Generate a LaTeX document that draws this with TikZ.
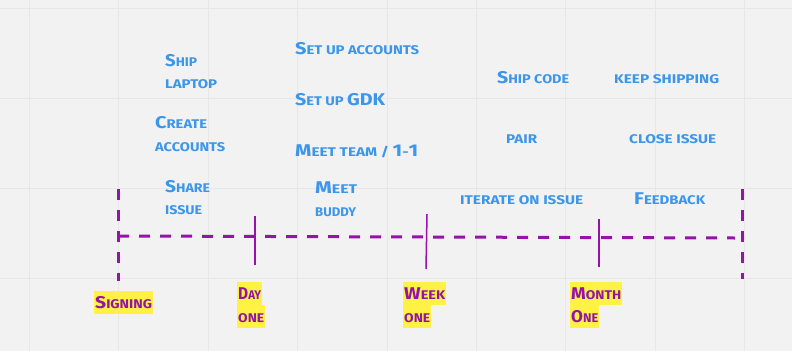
\documentclass[tikz,border=0pt]{standalone}
\usepackage{fontspec}
\setmainfont{Fira Sans}
\usepackage{graphicx}
\definecolor{bgc}{HTML}{F2F2F2}
\definecolor{gridc}{HTML}{E7E7E7}
\definecolor{blu}{HTML}{3C96EA}
\definecolor{purp}{HTML}{9414A8}
\definecolor{yel}{HTML}{FFF244}
\newsavebox\fitbox
\newcommand\fitw[2]{\sbox\fitbox{#2}\pgfmathsetmacro\fwr{#1/\wd\fitbox}\scalebox{\fwr}[1]{\usebox\fitbox}}
\newcommand\Bg[1]{{\fontsize{17}{17}\selectfont #1}}
\tikzset{
  note/.style={text=blu, font=\bfseries\fontsize{12.6}{14}\selectfont, anchor=base west, inner sep=0pt},
  lbl/.style={fill=yel, text=purp, font=\bfseries\fontsize{12.6}{14}\selectfont, anchor=north west,
    inner xsep=1pt, inner ysep=0pt, text height=11.5pt, text depth=0pt, minimum height=23pt},
  dashline/.style={draw=purp, line width=3pt, dash pattern=on 11pt off 10pt},
  tickline/.style={draw=purp, line width=1.5pt},
  gridline/.style={draw=gridc, line width=1pt}
}
\begin{document}
\begin{tikzpicture}[x=1pt,y=-1pt]
\fill[bgc] (0,0) rectangle (792,351);
\useasboundingbox (0,0) rectangle (792,351);
\foreach \gx in {29,118,208,297,387,476,565,655,744} {\draw[gridline] (\gx,0) -- (\gx,351);}
\foreach \gy in {8,98,188,278} {\draw[gridline] (0,\gy) -- (792,\gy);}

% timeline
\coordinate (tl0) at (118,236);
\coordinate (tl1) at (735,238);
\draw[dashline] (tl0) -- (tl1);
\coordinate (lb0) at (118,189);
\coordinate (lb1) at (118,281);
\draw[dashline] (lb0) -- (lb1);
\coordinate (rb0) at (742,189);
\coordinate (rb1) at (742,279);
\draw[dashline] (rb0) -- (rb1);
\coordinate (d0) at (255,216);
\coordinate (d1) at (255,265);
\draw[tickline] (d0) -- (d1);
\coordinate (w0) at (427,214);
\coordinate (w1) at (426,269);
\draw[tickline] (w0) -- (w1);
\coordinate (m0) at (599,219);
\coordinate (m1) at (599,267);
\draw[tickline] (m0) -- (m1);

% labels
\node[lbl] (sign) at (94,291) {\fitw{57}{\Bg{S}IGNING}};
\node[lbl] (day) at (237,282) {\fitw{23}{\Bg{D}AY}};
\node[lbl] (dayone) at (237,305) {\fitw{26}{ONE}};
\node[lbl] (week) at (403,282) {\fitw{41}{\Bg{W}EEK}};
\node[lbl] (weekone) at (403,305) {\fitw{26}{ONE}};
\node[lbl] (month) at (570,282) {\fitw{50}{\Bg{M}ONTH}};
\node[lbl] (monthone) at (570,305) {\fitw{27}{\Bg{O}NE}};

% notes
\node[note] (ship1) at (165,66) {\fitw{32}{\Bg{S}HIP}};
\node[note] (ship2) at (165,88) {\fitw{52}{LAPTOP}};
\node[note] (create1) at (155,128) {\fitw{52}{\Bg{C}REATE}};
\node[note] (create2) at (155,151) {\fitw{70}{ACCOUNTS}};
\node[note] (share1) at (165,192) {\fitw{45}{\Bg{S}HARE}};
\node[note] (share2) at (165,214) {\fitw{37}{ISSUE}};
\node[note] (setacc) at (295,54) {\fitw{124}{\Bg{S}ET UP ACCOUNTS}};
\node[note] (setgdk) at (295,105) {\fitw{90}{\Bg{S}ET UP \Bg{GDK}}};
\node[note] (team) at (295,156) {\fitw{123}{\Bg{M}EET TEAM / \Bg{1}-\Bg{1}}};
\node[note] (buddy1) at (315,193) {\fitw{42}{\Bg{M}EET}};
\node[note] (buddy2) at (315,216) {\fitw{41}{BUDDY}};
\node[note] (shipcode) at (497,83) {\fitw{72}{\Bg{S}HIP CODE}};
\node[note] (keep) at (614,83) {\fitw{105}{KEEP SHIPPING}};
\node[note] (pair) at (506,143) {\fitw{31}{PAIR}};
\node[note] (close) at (629,143) {\fitw{87}{CLOSE ISSUE}};
\node[note] (iter) at (460,204) {\fitw{123}{ITERATE ON ISSUE}};
\node[note] (feed) at (634,204) {\fitw{71}{\Bg{F}EEDBACK}};
\end{tikzpicture}
\end{document}
